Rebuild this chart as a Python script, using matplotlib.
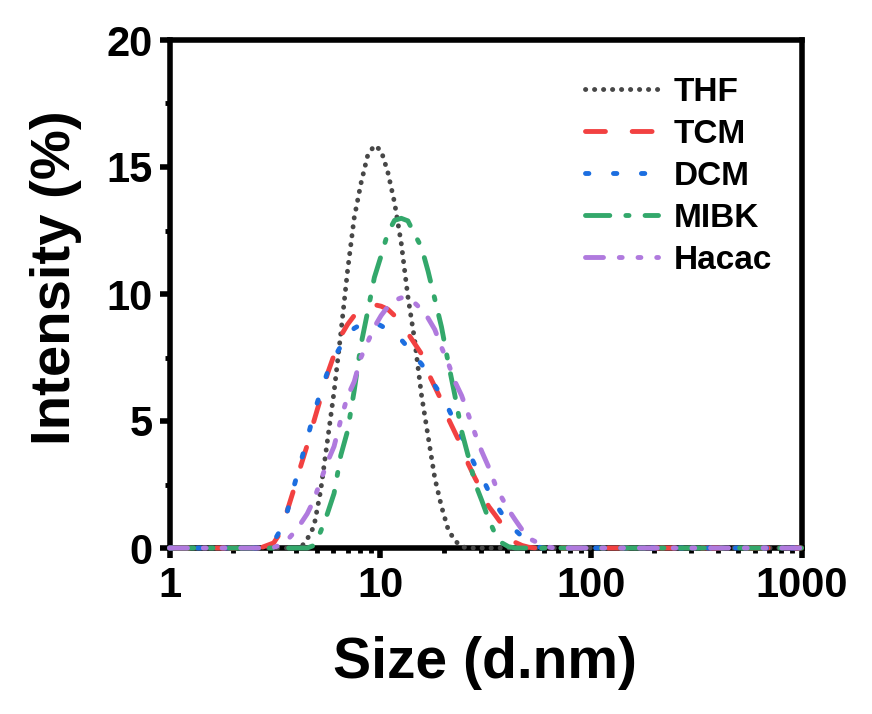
import numpy as np
import matplotlib
matplotlib.use("Agg")
import matplotlib.pyplot as plt
from matplotlib.ticker import FixedLocator, MultipleLocator, NullFormatter

plt.rcParams['font.family'] = ['Liberation Sans', 'DejaVu Sans']
plt.rcParams['font.weight'] = 'bold'
plt.rcParams['axes.labelweight'] = 'bold'

# size bins (d.nm) and intensity (%)
size_nm = [1.0, 2.696, 2.901, 3.122, 3.359, 3.615, 3.890, 4.187, 4.506, 4.849, 5.218,
           5.615, 6.042, 6.503, 6.998, 7.531, 8.104, 8.721, 9.385, 10.10, 10.87,
           11.70, 12.59, 13.54, 14.57, 15.69, 16.88, 18.17, 19.55, 21.04, 22.64,
           24.36, 26.22, 28.21, 30.36, 32.67, 35.16, 37.84, 40.72, 43.82, 47.16,
           50.75, 54.61, 58.77, 63.25, 68.06, 1000.0]

thf = [0, 0, 0, 0, 0, 0, 0, 0, 0.35, 0.85, 2.25,
       4.2, 6.15, 8.45, 10.9, 13.0, 14.35, 15.45, 15.85, 15.65, 14.8,
       13.6, 12.0, 9.9, 8.2, 6.05, 4.4, 2.75, 1.63, 0.72, 0.29,
       0.05, 0, 0, 0, 0, 0, 0, 0, 0, 0,
       0, 0, 0, 0, 0, 0]
tcm = [0, 0, 0.1, 0.2, 0.6, 1.45, 2.3, 3.2, 4.05, 5.0, 5.9,
       6.85, 7.6, 8.35, 8.8, 9.15, 9.35, 9.5, 9.58, 9.52, 9.4,
       9.15, 8.8, 8.45, 8.05, 7.65, 6.9, 6.35, 5.8, 5.1, 4.55,
       4.0, 3.3, 2.75, 2.25, 1.65, 1.3, 0.93, 0.55, 0.22, 0.1,
       0.03, 0, 0, 0, 0, 0]
dcm = [0, 0, 0.05, 0.25, 0.7, 1.4, 2.4, 3.35, 4.3, 5.3, 6.15,
       6.9, 7.48, 7.95, 8.36, 8.65, 8.8, 8.9, 8.88, 8.75, 8.6,
       8.4, 8.2, 7.9, 7.55, 7.25, 6.85, 6.4, 6.0, 5.5, 4.95,
       4.4, 3.8, 3.25, 2.8, 2.25, 1.75, 1.35, 1.0, 0.7, 0.45,
       0.25, 0.08, 0, 0, 0, 0]
mibk = [0, 0, 0, 0, 0, 0, 0, 0, 0, 0.1, 0.65,
        1.35, 2.15, 3.65, 4.6, 6.2, 8.0, 9.3, 10.65, 11.5, 12.4,
        12.9, 12.98, 12.88, 12.35, 11.85, 10.9, 9.8, 8.7, 7.3, 6.0,
        4.6, 3.6, 2.55, 1.87, 1.15, 0.55, 0.2, 0.05, 0, 0,
        0, 0, 0, 0, 0, 0]
hacac = [0, 0, 0, 0.02, 0.12, 0.3, 0.6, 0.95, 1.35, 1.9, 2.65,
         3.38, 4.0, 5.05, 5.97, 6.55, 7.5, 8.1, 8.7, 9.15, 9.5,
         9.75, 9.85, 9.8, 9.65, 9.4, 9.05, 8.6, 7.9, 7.28, 6.55,
         6.0, 5.25, 4.5, 3.8, 3.2, 2.5, 1.97, 1.5, 1.1, 0.72,
         0.38, 0.25, 0.12, 0.03, 0, 0]

labels = ['THF', 'TCM', 'DCM', 'MIBK', 'Hacac']
series = [thf, tcm, dcm, mibk, hacac]
colors = ['#474747', '#f24141', '#1c6ee0', '#33a86b', '#b07ade']
dashes = [(0, (0.05, 1.8)),
          (0, (4.1, 5.5)),
          (0, (0.7, 5.05)),
          (0, (5.0, 3.3, 0.65, 3.3)),
          (0, (3.7, 3.25, 0.6, 3.25, 0.6, 3.25))]

fig = plt.figure(figsize=(8.72, 7.14), dpi=100)
ax = fig.add_axes([169.5 / 872, 1 - 548 / 714, 632 / 872, 508 / 714])

for lab, y, c, ls in zip(labels, series, colors, dashes):
    ax.plot(size_nm, y, color=c, linestyle=ls, lw=3.5, dash_capstyle='round',
            label=lab, zorder=3, clip_on=False)

ax.set_xscale('log')
ax.set_xlim(1, 1000)
ax.set_ylim(0, 20)

ax.xaxis.set_major_locator(FixedLocator([1, 10, 100, 1000]))
ax.set_xticklabels(['1', '10', '100', '1000'])
ax.xaxis.set_minor_locator(FixedLocator([m * d for d in (1, 10, 100) for m in range(2, 10)]))
ax.xaxis.set_minor_formatter(NullFormatter())
ax.yaxis.set_major_locator(MultipleLocator(5))
ax.yaxis.set_minor_locator(MultipleLocator(2.5))

for sp in ax.spines.values():
    sp.set_linewidth(4)
ax.tick_params(which='major', direction='out', length=7, width=4, labelsize=30, pad=5)
ax.tick_params(which='minor', direction='out', length=3.5, width=3.5)
ax.tick_params(axis='x', which='major', pad=6)

ax.set_xlabel('Size (d.nm)', fontsize=41)
ax.set_ylabel('Intensity (%)', fontsize=40.5)
ax.xaxis.set_label_coords(0.499, -0.173)
ax.yaxis.set_label_coords(-0.138, 0.532)

ax.legend(loc='upper left', bbox_to_anchor=(585 / 872, 1 - 77 / 714),
          bbox_transform=fig.transFigure, frameon=False, fontsize=24,
          handlelength=2.2, handletextpad=0.47, labelspacing=0.33,
          borderpad=0, borderaxespad=0)

fig.savefig('out.png', dpi=100)
